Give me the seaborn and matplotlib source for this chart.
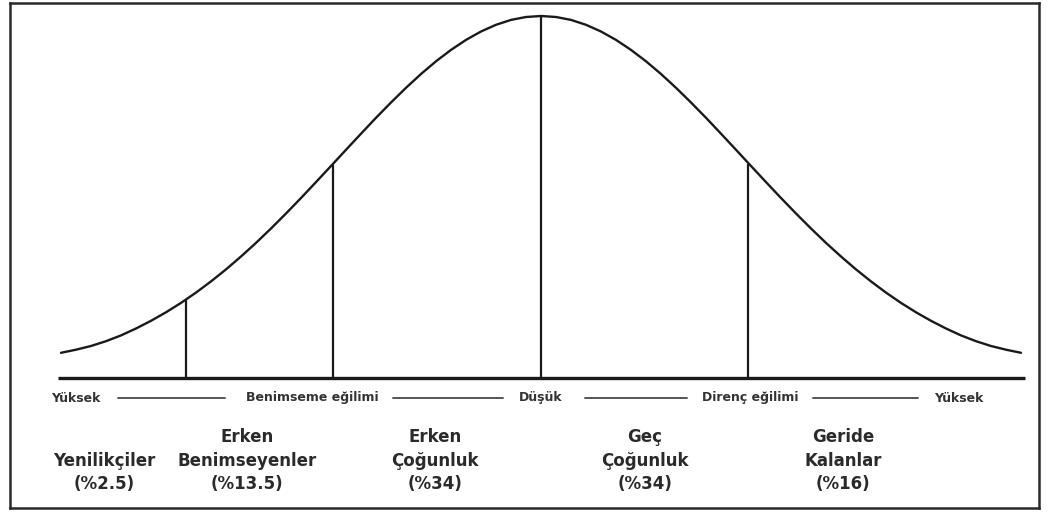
import matplotlib
matplotlib.use('Agg')
import matplotlib.pyplot as plt
import seaborn as sns
import pandas as pd

# Bell curve (offset from the peak in px, height above the baseline in px)
curve_x = [-480, -465, -450, -435, -420, -405, -390, -375, -360, -345, -330, -315, -300, -285, -270, -255,
           -240, -225, -210, -195, -180, -165, -150, -135, -120, -105, -90, -75, -60, -45, -30, -15,
           0, 15, 30, 45, 60, 75, 90, 105, 120, 135, 150, 165, 180, 195, 210, 225,
           240, 255, 270, 285, 300, 315, 330, 345, 360, 375, 390, 405, 420, 435, 450, 465, 480]
curve_h = [25.2, 28.3, 32.0, 36.8, 42.6, 49.5, 57.2, 65.7, 75.1, 85.4, 96.6, 108.6, 121.5, 135.1, 149.5, 164.5,
           180.0, 195.9, 212.0, 228.2, 244.3, 260.2, 275.5, 290.2, 304.0, 316.7, 328.1, 338.1, 346.5, 353.2, 358.1, 361.0,
           362.0, 361.0, 358.1, 353.2, 346.5, 338.1, 328.1, 316.7, 304.0, 290.2, 275.5, 260.2, 244.3, 228.2, 212.0, 195.9,
           180.0, 164.5, 149.5, 135.1, 121.5, 108.6, 96.6, 85.4, 75.1, 65.7, 57.2, 49.5, 42.6, 36.8, 32.0, 28.3, 25.2]

# Dividing lines between the adopter groups
divider_x = [-355, -208, 0, 207]
divider_h = [78, 213, 362, 214]

# Axis line under the curve
baseline_x = [-483, 484]

# Scale labels under the axis
scale_labels = ['Yüksek', 'Benimseme eğilimi', 'Düşük', 'Direnç eğilimi', 'Yüksek']
# Adopter groups
groups = ['Yenilikçiler\n(%2.5)', 'Erken\nBenimseyenler\n(%13.5)', 'Erken\nÇoğunluk\n(%34)',
          'Geç\nÇoğunluk\n(%34)', 'Geride\nKalanlar\n(%16)']

sns.set_style('white')
plt.rcParams['font.family'] = ['DejaVu Sans']

fig = plt.figure(figsize=(10.48, 5.16), dpi=100)
ax = fig.add_axes([10 / 1048, 8 / 516, 1029 / 1048, 505 / 516])

df = pd.DataFrame({'x': curve_x, 'h': curve_h})
sns.lineplot(data=df, x='x', y='h', ax=ax, color='#1a1a1a', linewidth=1.7)
ax.vlines(divider_x, 0, divider_h, color='#1a1a1a', linewidth=1.6)
ax.hlines(0, baseline_x[0], baseline_x[1], color='#1a1a1a', linewidth=2.4)

ax.set_xlim(-531, 498)
ax.set_ylim(-130, 375)
ax.set_xticks([])
ax.set_yticks([])
ax.set_xlabel('')
ax.set_ylabel('')
for s in ax.spines.values():
    s.set_visible(True)
    s.set_color('#2a2a2a')
    s.set_linewidth(1.8)

# scale row with dashes between the words
label_pos = [-465, -229, 0, 209, 418]
for lbl, px in zip(scale_labels, label_pos):
    ax.text(px, -20, lbl, ha='center', va='center', fontsize=9, fontweight='bold', color='#333333')
dash_segments = [(-423, -316), (-148, -38), (44, 146), (272, 377)]
for a, b in dash_segments:
    ax.plot([a, b], [-20, -20], color='#555555', linewidth=1.4)

group_pos = [-437, -294, -106, 104, 302]
for g, px in zip(groups, group_pos):
    ax.text(px, -115, g, ha='center', va='bottom', fontsize=12, fontweight='bold',
            color='#2a2a2a', linespacing=1.38, multialignment='center')

plt.savefig('out.png', dpi=100)
